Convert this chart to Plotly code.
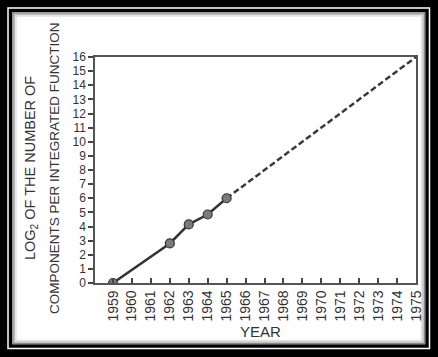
import plotly.graph_objects as go

# Data
years_measured = [1959, 1962, 1963, 1964, 1965]
log2_measured = [0.0, 2.8, 4.15, 4.85, 6.0]
years_projected = [1965, 1975]
log2_projected = [6.0, 16.0]
year_ticks = list(range(1959, 1976))
y_ticks = list(range(0, 17))

W, H = 438, 357
ML, MR, MT, MB = 95, 22, 57, 74
PW, PH = W - ML - MR, H - MT - MB

def px(xp):
    return (xp - ML) / PW

def py(yp):
    return (H - MB - yp) / PH

FONT = "Liberation Sans, Arial, sans-serif"
INK = "#333333"

fig = go.Figure()
fig.add_trace(go.Scatter(
    x=years_projected, y=log2_projected, mode="lines",
    line=dict(color="#3a3a3a", width=2.5, dash="6px,3px"),
    hoverinfo="skip", showlegend=False,
))
fig.add_trace(go.Scatter(
    x=years_measured, y=log2_measured, mode="lines+markers",
    line=dict(color="#333333", width=2.5),
    marker=dict(size=9, color="#7a7a7a", line=dict(color="#333333", width=1.2)),
    showlegend=False,
))

shapes = []
def frame(x0, y0, x1, y1, **kw):
    shapes.append(dict(type="rect", xref="paper", yref="paper",
                       x0=px(x0), x1=px(x1), y0=py(y0), y1=py(y1),
                       layer="below", **kw))

frame(8, 8, 429.5, 348.5, line=dict(color="white", width=1.5), fillcolor="black")
frame(11, 11, 426.5, 345.5, line=dict(color="black", width=2.5), fillcolor="white")
frame(13, 13, 424.5, 343.5, line=dict(color="#888888", width=1.5))
frame(14.5, 14.5, 423, 342, line=dict(color="#bbbbbb", width=1.5))
frame(16, 16, 421.5, 340.5, line=dict(color="#e2e2e2", width=1.5))

annotations = [
    dict(text="LOG<sub>2</sub> OF THE NUMBER OF", xref="paper", yref="paper",
         x=px(31), y=py(168), textangle=-90, showarrow=False,
         xanchor="center", yanchor="middle",
         font=dict(family=FONT, size=14.5, color=INK)),
    dict(text="COMPONENTS PER INTEGRATED FUNCTION", xref="paper", yref="paper",
         x=px(54), y=py(168), textangle=-90, showarrow=False,
         xanchor="center", yanchor="middle",
         font=dict(family=FONT, size=13.5, color=INK)),
    dict(text="YEAR", xref="paper", yref="paper",
         x=px(260), y=py(331), showarrow=False,
         xanchor="center", yanchor="middle",
         font=dict(family=FONT, size=15, color=INK)),
]

fig.update_layout(
    width=W, height=H,
    margin=dict(l=ML, r=MR, t=MT, b=MB, pad=0),
    paper_bgcolor="black", plot_bgcolor="white",
    shapes=shapes, annotations=annotations,
    xaxis=dict(range=[1958.05, 1975.0], tickvals=year_ticks,
               ticktext=[str(y) for y in year_ticks], tickangle=-90,
               ticks="inside", ticklen=5, tickwidth=1.5, tickcolor="#444",
               showgrid=False, zeroline=False,
               showline=True, linecolor="#555", linewidth=1.5, mirror=True,
               tickfont=dict(family=FONT, size=14, color=INK)),
    yaxis=dict(range=[0, 16], tickvals=y_ticks,
               ticks="outside", ticklen=5, tickwidth=1.5, tickcolor="#444",
               showgrid=False, zeroline=False,
               showline=True, linecolor="#555", linewidth=1.5, mirror=True,
               tickfont=dict(family=FONT, size=12, color=INK)),
)

fig.write_html("out.html")
